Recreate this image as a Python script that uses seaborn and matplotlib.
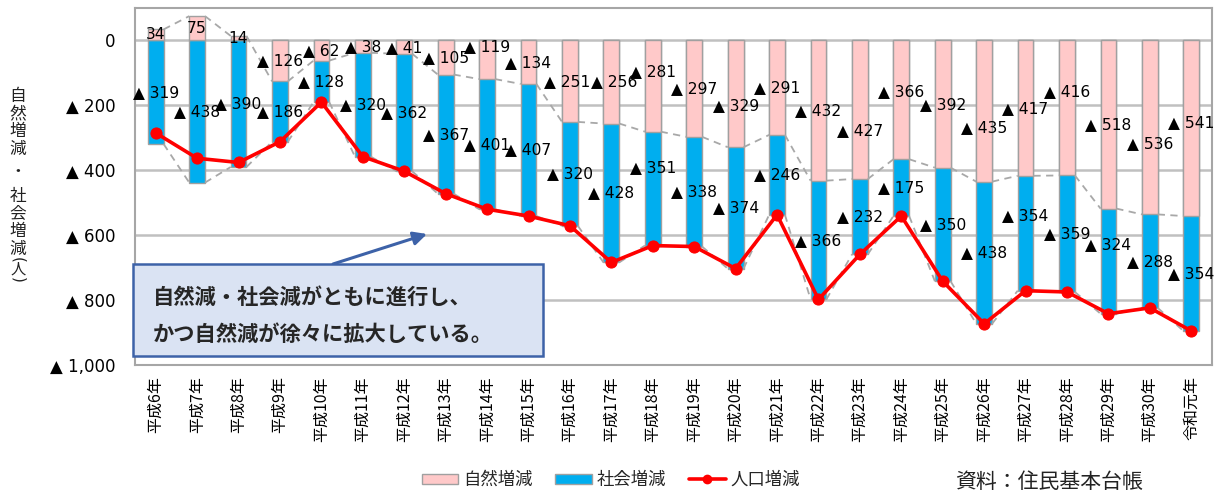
import numpy as np
import pandas as pd
import matplotlib
matplotlib.use("Agg")
import matplotlib.pyplot as plt
import seaborn as sns
from matplotlib.patches import Patch, Rectangle
from matplotlib.lines import Line2D

# 年次別の人口動態（自然増減・社会増減）
years = ["平成6年", "平成7年", "平成8年", "平成9年", "平成10年", "平成11年",
         "平成12年", "平成13年", "平成14年", "平成15年", "平成16年", "平成17年",
         "平成18年", "平成19年", "平成20年", "平成21年", "平成22年", "平成23年",
         "平成24年", "平成25年", "平成26年", "平成27年", "平成28年", "平成29年",
         "平成30年", "令和元年"]
natural = [34, 75, 14, -126, -62, -38, -41, -105, -119, -134, -251, -256, -281,
           -297, -329, -291, -432, -427, -366, -392, -435, -417, -416, -518,
           -536, -541]
social = [-319, -438, -390, -186, -128, -320, -362, -367, -401, -407, -320, -428,
          -351, -338, -374, -246, -366, -232, -175, -350, -438, -354, -359, -324,
          -288, -354]
y_ticks = [-1000, -800, -600, -400, -200, 0]
legend_labels = ["自然増減", "社会増減", "人口増減"]

# 重なりを避けるためのラベル位置の微調整（ピクセル (dx, dy)、上向きが正）
natural_nudge = {8: (0, 13), 10: (-3, 0), 11: (3, 0), 12: (0, 15), 14: (0, -12),
                 17: (0, -21), 18: (0, 8), 20: (0, -16), 22: (0, 16),
                 24: (0, -16), 25: (0, 6)}
social_nudge = {12: (0, 21), 21: (0, 18), 23: (0, 17)}

PINK = "#FFC9C9"
BLUE = "#00AEEF"
RED = "#FF0000"
EDGE = "#A0A0A0"
GRID = "#C0C0C0"
JP = ["Noto Sans CJK JP", "DejaVu Sans"]

sns.set_theme(style="white")
plt.rcParams["font.family"] = ["DejaVu Sans", "Noto Sans CJK JP"]

df = pd.DataFrame({"year": years, "natural": natural, "social": social})
df["social_base"] = np.minimum(df["natural"], 0)
df["social_end"] = df["social_base"] + df["social"]
df["total"] = df["natural"] + df["social"]
n = len(df)
pos = np.arange(n)
bw = 0.38

W, H = 1224, 495
fig = plt.figure(figsize=(W / 100, H / 100), dpi=100)
ax = fig.add_axes([135 / W, 1 - 365 / H, (1212 - 135) / W, (365 - 8) / H])

# 積み上げ棒：社会増減（下側）→ 自然増減（0 から）
sns.barplot(data=df, x="year", y="social_end", color=BLUE, saturation=1,
            width=bw, edgecolor=EDGE, linewidth=1.0, ax=ax, zorder=2)
sns.barplot(data=df, x="year", y="natural", color=PINK, saturation=1,
            width=bw, edgecolor=EDGE, linewidth=1.0, ax=ax, zorder=2)

# 区分線（破線）
for ends in (df["natural"].to_numpy(), df["social_end"].to_numpy()):
    for i in range(n - 1):
        ax.plot([i + bw / 2, i + 1 - bw / 2], [ends[i], ends[i + 1]],
                ls=(0, (4, 3)), color="#A8A8A8", lw=1.3, zorder=3)

# 人口増減の折れ線
sns.lineplot(x=pos, y=df["total"].to_numpy(), color=RED, lw=2.6, marker="o",
             markersize=8, markeredgecolor=RED, ax=ax, zorder=5, legend=False)


def fmt(v):
    return f"{v:,}" if v >= 0 else f"▲ {abs(v):,}"


for i, r in df.iterrows():
    ax.annotate(fmt(r["natural"]), xy=(i, r["natural"] / 2),
                xytext=natural_nudge.get(i, (0, 0)), textcoords="offset pixels",
                ha="center", va="center", fontsize=11.2, color="black", zorder=6)
    ax.annotate(fmt(r["social"]), xy=(i, r["social_base"] + r["social"] / 2),
                xytext=social_nudge.get(i, (0, 0)), textcoords="offset pixels",
                ha="center", va="center", fontsize=11.2, color="black", zorder=6)

ax.set_xlim(-0.5, n - 0.5)
ax.set_ylim(-1000, 100)
ax.set_yticks(y_ticks)
ax.set_yticklabels([fmt(v) for v in y_ticks], fontsize=12)
ax.set_xticks(pos)
ax.set_xticklabels(years, rotation=90, fontsize=11.5, family=JP)
ax.tick_params(axis="y", length=0, pad=14, colors="black")
ax.tick_params(axis="x", length=0, pad=8, colors="black")
ax.set_xlabel("")
ax.set_ylabel("")
ax.yaxis.grid(True, color=GRID, lw=1.8)
ax.set_axisbelow(True)
for s in ax.spines.values():
    s.set_color("#A6A6A6")
    s.set_linewidth(1.5)

# 縦書きの軸タイトル
label_chars = [("自", 96), ("然", 114), ("増", 131.5), ("減", 149), ("・", 172),
               ("社", 196), ("会", 214), ("増", 231.5), ("減", 249)]
for ch, yc in label_chars:
    fig.text(18 / W, 1 - yc / H, ch, ha="center", va="center", fontsize=12,
             family=JP, color="#222222")
fig.text(18 / W, 1 - 260 / H, "(", ha="center", va="center", fontsize=11,
         rotation=-90, color="#222222")
fig.text(18 / W, 1 - 269.5 / H, "人", ha="center", va="center", fontsize=11,
         family=JP, color="#222222")
fig.text(18 / W, 1 - 279.5 / H, ")", ha="center", va="center", fontsize=11,
         rotation=-90, color="#222222")

# コメント枠と矢印
box_color = "#3D62A8"
fig.add_artist(Rectangle((133 / W, 1 - 356 / H), (543 - 133) / W, (356 - 264) / H,
                         transform=fig.transFigure, facecolor="#DAE3F3",
                         edgecolor=box_color, lw=1.8, zorder=10))
fig.text(153 / W, 1 - 297 / H, "自然減・社会減がともに進行し、", ha="left",
         va="center", fontsize=15.3, fontweight="bold", family=JP, zorder=11)
fig.text(153 / W, 1 - 334 / H, "かつ自然減が徐々に拡大している。", ha="left",
         va="center", fontsize=15.3, fontweight="bold", family=JP, zorder=11)
ax.annotate("", xy=(427, H - 234), xytext=(333, H - 264),
            xycoords="figure pixels", textcoords="figure pixels",
            arrowprops=dict(arrowstyle="-|>", color=box_color, lw=2.2,
                            mutation_scale=20, shrinkA=0, shrinkB=0),
            zorder=11, annotation_clip=False)

# 凡例
handles = [
    Patch(facecolor=PINK, edgecolor=EDGE, label=legend_labels[0]),
    Patch(facecolor=BLUE, edgecolor=EDGE, label=legend_labels[1]),
    Line2D([0], [0], color=RED, lw=2.6, marker="o", markersize=6,
           label=legend_labels[2]),
]
fig.legend(handles=handles, loc="center", bbox_to_anchor=(611 / W, 1 - 480 / H),
           ncol=3, frameon=False, prop={"family": JP, "size": 12.5},
           handlelength=2.1, handleheight=0.55, handletextpad=0.3,
           columnspacing=1.3)

fig.text(1143 / W, 1 - 482 / H, "資料：住民基本台帳", ha="right", va="center",
         fontsize=15, family=JP, color="#222222")

fig.savefig("out.png", dpi=100)
